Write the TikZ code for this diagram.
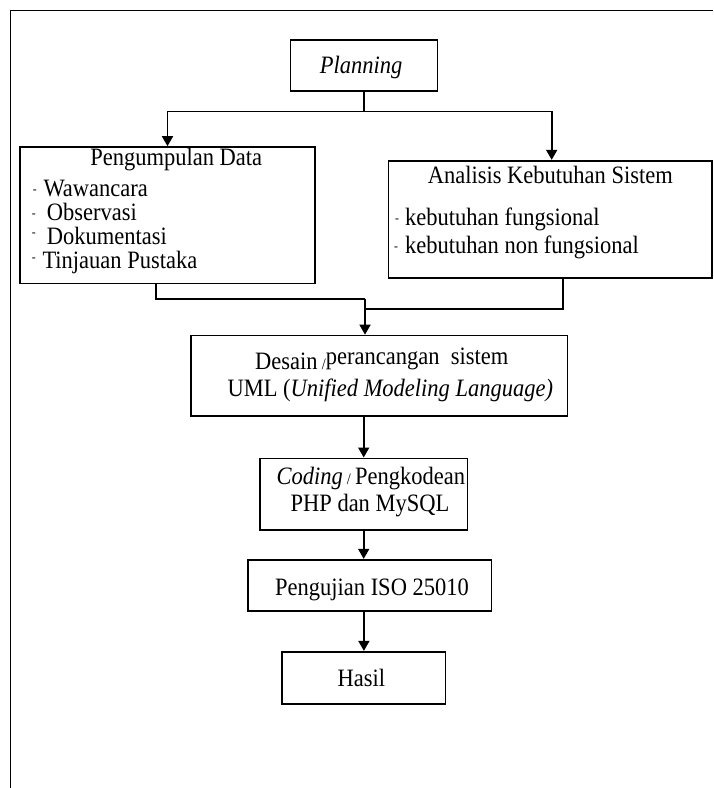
\documentclass[tikz,border=0pt]{standalone}
\usepackage{fontspec}
\setmainfont{Liberation Serif}[FakeStretch=0.9]
\usetikzlibrary{arrows.meta}
\newcommand{\sdash}{{\fontsize{13}{13}\selectfont -}}
\newcommand{\sslash}{{\fontsize{16}{16}\selectfont /}}
\begin{document}
\begin{tikzpicture}[x=1pt,y=-1pt,
  box/.style={draw, line width=1.7pt, inner sep=0pt, rectangle},
  lbl/.style={inner sep=0pt, font=\fontsize{25}{30}\selectfont},
  arr/.style={line width=1.7pt, -{Triangle[length=10pt,width=11pt]}},
  ln/.style={line width=1.7pt}]
\useasboundingbox (0,0) rectangle (713,788);
% frame
\draw[ln] (10.5,788) -- (10.5,10.5) -- (713,10.5);
% boxes
\node[box, minimum width=147pt, minimum height=50.7pt] (plan) at (364,65.3) {};
\node[box, minimum width=295pt, minimum height=136.3pt] (data) at (167.5,215.2) {};
\node[box, minimum width=323.5pt, minimum height=117.6pt] (anal) at (550.2,219.5) {};
\node[box, minimum width=376.3pt, minimum height=80.8pt] (desain) at (379.2,375.9) {};
\node[box, minimum width=207.3pt, minimum height=71.7pt] (coding) at (363.7,494.2) {};
\node[box, minimum width=243.7pt, minimum height=51pt] (uji) at (369.5,585.2) {};
\node[box, minimum width=163.2pt, minimum height=52pt] (hasil) at (363.9,677.7) {};
% texts
\node[lbl, anchor=base] (tplan) at (361,73.3) {\textit{Planning}};
\node[lbl, anchor=base] (tdata) at (176.2,165) {Pengumpulan Data};
\node[lbl, anchor=base west] (td1) at (32.7,196.7) {\makebox[10.6pt][l]{\raisebox{3pt}{\sdash}}Wawancara};
\node[lbl, anchor=base west] (td2) at (31.7,220.7) {\makebox[15pt][l]{\raisebox{3pt}{\sdash}}Observasi};
\node[lbl, anchor=base west] (td3) at (31.7,244.3) {\makebox[15pt][l]{\raisebox{7.5pt}{\sdash}}Dokumentasi};
\node[lbl, anchor=base west] (td4) at (31.7,268.3) {\makebox[10.6pt][l]{\raisebox{7pt}{\sdash}}Tinjauan Pustaka};
\node[lbl, anchor=base] (tanal) at (550.3,183.3) {Analisis Kebutuhan Sistem};
\node[lbl, anchor=base west] (ta1) at (395,225) {\makebox[10pt][l]{\raisebox{3pt}{\sdash}}kebutuhan fungsional};
\node[lbl, anchor=base west] (ta2) at (394,253.3) {\makebox[11pt][l]{\raisebox{3pt}{\sdash}}kebutuhan non fungsional};
\node[lbl, anchor=base] (tdes1) at (381.7,369.3) {Desain\,\sslash\raisebox{5pt}{perancangan\ \ sistem}};
\node[lbl, anchor=base] (tdes2) at (390.3,396.7) {UML\ (\textit{Unified Modeling Language)}};
\node[lbl, anchor=base] (tcod1) at (370.8,484.3) {\textit{Coding}\,\sslash\,Pengkodean};
\node[lbl, anchor=base] (tcod2) at (370,511) {PHP dan MySQL};
\node[lbl, anchor=base] (tuji) at (372,595) {Pengujian ISO 25010};
\node[lbl, anchor=base] (thas) at (361.3,686.7) {Hasil};
% connectors
\draw[arr] (plan.south) -- ++(0,20) -| (data.north);
\draw[arr] (plan.south) ++(0,20) -| ([xshift=1.5pt]anal.north);
\coordinate (mj) at (365,299.3);
\draw[ln] ([xshift=-11.5pt]data.south) |- (mj);
\draw[ln] ([xshift=12.5pt]anal.south) -- ++(0,30) -| (mj);
\draw[arr] (mj) -- (mj |- desain.north);
\draw[arr] (desain.south -| coding.north) -- (coding.north);
\draw[arr] (coding.south) -- (coding.south |- uji.north);
\draw[arr] (uji.south -| hasil.north) -- (hasil.north);
\end{tikzpicture}
\end{document}
